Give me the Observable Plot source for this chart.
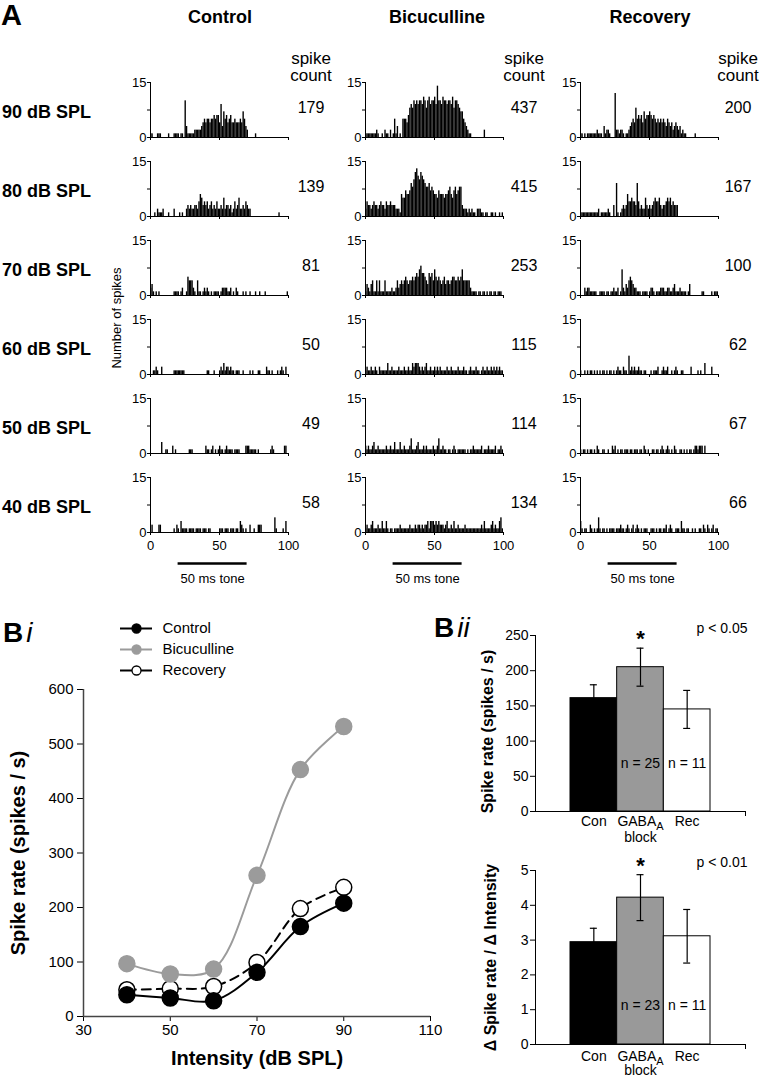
<!DOCTYPE html>
<html>
<head>
<meta charset="utf-8">
<script src="https://cdn.jsdelivr.net/npm/d3@7"></script>
<script src="https://cdn.jsdelivr.net/npm/@observablehq/plot@0.6"></script>
<style>
  body { margin: 0; background: #fff; }
  #fig { position: relative; width: 760px; height: 1077px; overflow: hidden; background: #fff;
         font-family: "Liberation Sans", Arial, Helvetica, sans-serif; color: #000; }
  .t { position: absolute; white-space: nowrap; line-height: 1; }
</style>
</head>
<body>
<div id="fig"></div>
<script>
// ---------------- DATA ----------------
const conditions = ["Control", "Bicuculline", "Recovery"];
const levels = ["90 dB SPL", "80 dB SPL", "70 dB SPL", "60 dB SPL", "50 dB SPL", "40 dB SPL"];
const controlCounts = [179, 139, 81, 50, 49, 58];
const bicucullineCounts = [437, 415, 253, 115, 114, 134];
const recoveryCounts = [200, 167, 100, 62, 67, 66];

// PSTH bins (1 ms, 0-100 ms), spikes per bin
const control90 = [1,1,0,0,0,1,1,1,0,0, 0,0,0,1,0,0,0,1,1,1, 1,0,1,1,0,10,3,1,1,1, 1,1,2,2,2,2,2,3,4,5, 4,5,5,4,5,5,6,5,6,6, 4,9,3,7,5,6,4,5,6,4, 4,5,4,4,4,5,4,7,5,3, 2,0,0,0,0,0,1,0,0,0, 0,0,0,0,0,0,0,0,0,0, 0,0,0,0,0,0,0,0,0,0];
const control80 = [0,0,0,1,0,2,1,1,1,2, 0,0,0,1,0,0,0,2,0,0, 0,1,0,1,0,0,2,3,2,3, 2,2,3,3,2,4,6,5,3,4, 3,4,2,3,4,2,3,2,4,2, 2,3,2,5,2,3,3,2,3,1, 2,4,2,3,5,2,2,3,2,4, 3,2,2,0,0,0,0,0,0,0, 0,0,0,0,0,0,0,0,0,0, 0,0,0,1,0,0,0,0,0,0];
const control70 = [2,3,1,0,1,0,1,0,0,0, 0,0,0,0,0,0,0,1,1,1, 1,0,1,2,0,0,1,5,4,4, 4,2,1,0,4,1,1,0,1,2, 1,2,1,0,1,0,1,1,1,1, 0,1,2,2,2,2,1,1,2,0, 1,0,2,1,0,0,0,1,0,1, 0,0,1,0,0,0,1,0,0,1, 0,0,0,1,0,0,0,0,0,0, 0,0,0,0,0,0,0,0,0,1];
const control60 = [0,0,1,1,2,1,0,0,2,0, 0,0,0,0,0,0,0,1,1,1, 1,1,1,1,1,0,0,0,0,0, 0,0,0,0,0,0,0,0,0,0, 0,1,1,0,0,0,1,0,0,0, 1,2,1,3,1,2,2,1,2,1, 1,0,1,1,1,0,0,1,0,0, 0,0,1,0,1,0,0,0,1,1, 0,0,0,0,2,1,1,0,1,0, 0,0,1,0,1,2,1,0,2,0];
const control50 = [0,0,0,0,0,0,0,0,3,0, 0,1,1,0,0,0,2,0,1,0, 0,0,0,0,0,0,0,0,1,1, 1,0,0,0,0,0,0,0,0,0, 2,1,1,0,1,2,0,1,0,1, 2,1,1,0,1,2,1,1,1,1, 0,1,1,1,1,0,0,0,0,2, 2,2,1,1,1,1,1,0,1,0, 0,0,0,0,0,0,0,1,2,1, 0,0,0,0,0,0,0,2,2,0];
const control40 = [0,2,0,0,0,0,2,2,0,0, 0,0,0,0,0,0,0,1,0,2, 1,0,3,1,1,1,1,0,1,1, 1,1,0,1,1,1,1,0,1,1, 1,0,1,1,0,0,0,0,0,0, 1,1,1,0,1,1,1,0,1,1, 1,0,1,1,0,3,2,1,0,1, 0,0,2,0,0,1,0,0,2,2, 2,0,0,0,0,0,0,0,0,0, 4,1,0,0,0,0,1,0,3,0];

const bicuculline90 = [1,1,1,1,1,1,1,1,2,1, 0,0,1,0,2,1,1,0,2,0, 1,5,1,3,0,1,0,5,5,5, 4,6,8,9,8,10,9,10,9,10, 10,9,11,10,8,10,11,9,10,10, 11,9,14,10,10,9,11,10,10,9, 10,10,9,11,8,10,10,9,8,7, 7,5,4,3,2,1,1,0,0,0, 0,0,0,0,0,0,2,0,0,0, 0,0,0,0,0,0,0,0,0,0];
const bicuculline80 = [2,4,3,3,2,3,4,3,3,2, 3,4,3,3,2,4,3,3,4,3, 3,3,2,2,2,1,6,5,5,7, 6,6,7,9,8,10,12,13,11,10, 12,11,10,9,8,8,9,7,8,7, 6,6,5,7,6,6,6,5,6,6, 7,8,6,5,7,8,6,7,8,8, 3,2,2,2,1,2,1,2,1,1, 0,2,2,2,1,1,0,1,1,0, 0,1,1,0,1,0,0,1,0,1];
const bicuculline70 = [1,3,2,1,3,4,1,1,4,1, 4,1,1,1,4,1,1,1,1,2, 1,1,2,4,2,3,4,3,4,5, 4,3,4,4,5,4,5,6,5,7, 8,6,6,5,4,3,6,5,6,4, 7,5,4,5,4,3,4,5,3,4, 4,3,4,5,5,4,4,5,4,5, 7,4,4,4,4,4,2,1,1,1, 1,0,1,1,0,1,1,0,1,0, 1,1,0,1,1,0,1,1,1,0];
const bicuculline60 = [1,2,1,1,2,1,1,2,1,0, 2,1,1,1,1,1,3,1,1,2, 1,1,1,1,2,1,1,1,2,1, 1,2,1,1,3,2,3,3,3,2, 1,2,1,2,3,1,1,2,1,1, 2,1,2,1,2,1,1,1,1,2, 1,1,2,1,1,1,1,2,1,1, 1,2,1,1,0,1,2,1,1,1, 2,1,1,0,1,2,1,1,2,1, 1,2,1,2,1,2,1,2,1,1];
const bicuculline50 = [2,1,2,1,1,2,3,1,1,2, 1,1,1,1,1,2,1,1,2,1, 1,3,1,1,1,3,1,1,2,1, 1,1,2,4,1,1,1,2,3,1, 1,1,2,1,2,1,1,1,1,2, 1,1,2,4,1,1,2,1,1,0, 1,1,0,1,2,1,0,1,1,1, 1,1,1,0,1,0,1,1,2,1, 1,1,1,1,2,0,1,1,1,2, 1,1,1,1,2,0,1,1,2,1];
const bicuculline40 = [1,2,1,1,2,3,1,1,1,2, 1,1,3,1,1,3,1,0,1,1, 0,1,1,1,1,2,1,1,1,1, 1,1,2,1,1,1,2,1,2,2, 1,2,1,2,2,3,1,3,3,3, 2,3,2,3,2,2,2,1,2,3, 1,1,2,1,3,1,1,2,1,1, 1,1,2,1,1,1,1,1,1,1, 1,1,1,1,2,1,3,1,1,1, 1,2,3,1,2,1,1,3,4,1];

const recovery90 = [1,1,0,1,0,1,1,1,1,1, 1,1,2,1,1,1,0,3,1,2, 2,1,0,0,0,12,2,2,1,2, 2,1,0,1,1,2,3,4,5,4, 8,5,6,5,6,4,7,5,6,6, 7,6,5,6,5,4,5,4,5,4, 5,4,3,5,4,3,4,2,3,4, 3,2,3,1,2,1,1,0,0,0, 0,0,0,1,0,0,0,0,0,0, 0,0,0,0,0,0,0,0,0,0];
const recovery80 = [1,1,1,1,1,1,1,1,1,1, 1,1,1,2,0,1,1,1,1,1, 2,1,0,0,3,0,9,1,0,1, 2,3,2,3,6,4,4,5,4,4, 3,9,4,2,3,2,2,5,3,2, 3,2,3,4,5,4,4,5,3,2, 3,3,4,5,4,5,3,4,3,3, 3,0,0,0,0,0,0,0,0,0, 0,0,0,0,0,0,0,0,0,0, 0,0,0,0,0,0,0,0,0,0];
const recovery70 = [0,0,0,2,1,2,2,1,1,1, 1,1,0,0,1,1,1,1,0,1, 1,0,1,1,2,1,1,2,0,1, 7,2,1,3,2,4,5,4,3,2, 2,1,1,1,0,1,1,1,1,0, 1,2,2,1,0,1,1,1,2,2, 2,1,1,2,2,1,1,2,3,1, 1,1,2,1,1,1,1,0,1,3, 0,0,0,0,0,0,0,0,1,1, 0,0,0,0,0,1,0,1,1,1];
const recovery60 = [1,0,0,1,0,1,0,1,1,0, 1,0,1,0,1,0,1,1,0,1, 0,1,1,0,1,0,1,2,1,1, 0,2,1,1,0,5,1,2,1,2, 1,1,2,1,1,0,1,1,0,0, 0,1,0,1,1,1,2,0,0,1, 2,1,1,2,0,0,1,0,1,2, 1,0,0,1,1,0,0,0,0,0, 2,0,0,0,0,1,0,1,0,0, 3,0,0,0,0,2,0,0,0,0];
const recovery50 = [1,0,1,1,0,1,0,1,1,0, 1,0,2,1,0,0,1,1,0,0, 1,0,0,2,1,2,0,1,0,1, 1,0,1,1,1,0,1,1,0,1, 1,1,0,1,1,0,2,1,0,1, 0,0,1,1,0,1,1,0,1,2, 1,0,1,2,1,0,1,0,2,1, 0,0,1,1,0,1,0,1,0,1, 1,0,1,2,2,1,2,2,2,0, 2,0,0,0,0,0,0,0,0,0];
const recovery40 = [3,1,0,1,1,0,0,2,1,0, 1,0,1,4,1,0,1,1,0,1, 0,1,1,1,1,0,1,1,1,2, 1,1,0,1,2,1,0,1,2,0, 1,2,1,0,1,0,1,1,1,0, 0,1,1,1,0,1,0,1,1,0, 1,1,2,0,1,2,1,0,0,1, 1,1,0,3,1,1,0,1,1,0, 0,1,0,1,0,0,1,1,0,2, 1,0,2,1,0,1,2,0,1,1];

const controlHists = [control90, control80, control70, control60, control50, control40];
const bicucullineHists = [bicuculline90, bicuculline80, bicuculline70, bicuculline60, bicuculline50, bicuculline40];
const recoveryHists = [recovery90, recovery80, recovery70, recovery60, recovery50, recovery40];

const timeDomain = [0, 100];
const timeTicks = [0, 50, 100];
const countDomain = [0, 15];
const countTicks = [0, 7.5, 15];
const toneOn = 20, toneOff = 70;
const toneLabel = "50 ms tone";

// Panel Bi
const intensities = [40, 50, 60, 70, 80, 90];
const controlRate = [40, 34, 29, 81, 165, 208];
const bicucullineRate = [97, 78, 87, 259, 453, 532];
const recoveryRate = [49, 51, 55, 99, 198, 237];
const intensityDomain = [30, 110];
const intensityTicks = [30, 50, 70, 90, 110];
const rateDomain = [0, 600];
const rateTicks = [0, 100, 200, 300, 400, 500, 600];

// Panel Bii
const groups = ["Con", "GABA", "Rec"];
const groupLabels = ["Con", "GABAA", "Rec"];
const groupSubLabels = ["", "block", ""];
const rateMean = [161, 205, 145];
const rateErr = [19, 27, 27];
const rateN = ["", "n = 25", "n = 11"];
const rateSig = ["", "*", ""];
const slopeMean = [2.94, 4.22, 3.11];
const slopeErr = [0.40, 0.66, 0.77];
const slopeN = ["", "n = 23", "n = 11"];
const slopeSig = ["", "*", ""];
const rateBarTicks = [0, 50, 100, 150, 200, 250];
const slopeBarTicks = [0, 1, 2, 3, 4, 5];

// ---------------- LAYOUT HELPERS ----------------
const FONT = '"Liberation Sans", Arial, Helvetica, sans-serif';
const fig = document.getElementById("fig");
function place(node, left, top) {
  node.style.position = "absolute";
  node.style.left = left + "px";
  node.style.top = top + "px";
  fig.appendChild(node);
  return node;
}
function textAt(html, x, y, css = {}, anchor = "middle", rotate = 0) {
  const d = document.createElement("div");
  d.className = "t";
  d.innerHTML = html;
  Object.assign(d.style, css);
  const tr = anchor === "start" ? "translate(0,-50%)" : "translate(-50%,-50%)";
  d.style.transform = rotate ? tr + " rotate(" + rotate + "deg)" : tr;
  place(d, x, y);
  return d;
}
const baseStyle = (size) => ({fontFamily: FONT, fontSize: size + "px", background: "transparent", overflow: "visible", color: "#000"});

// ---------------- PANEL A ----------------
const colX0 = [150, 365, 580];
const histW = 138, histH = 55;
const baselines = [137, 216, 295, 374, 453, 532];
const headerX = [311, 524, 738];

function histogram(values, x0, base, isBottom) {
  const bins = values.map((v, t) => ({t, v})).filter(d => d.v > 0);
  const mL = 24, mR = 8, mT = 4, mB = isBottom ? 56 : 6;
  const extra = isBottom ? [
    Plot.ruleY([0], {x1: toneOn, x2: toneOff, dy: 31, stroke: "#000", strokeWidth: 2.5}),
    Plot.text([toneLabel], {x: (toneOn + toneOff) / 2, frameAnchor: "bottom", dy: 46, lineAnchor: "middle", fontSize: 13, text: d => d})
  ] : [];
  const svg = Plot.plot({
    width: mL + histW + mR, height: mT + histH + mB,
    marginLeft: mL, marginRight: mR, marginTop: mT, marginBottom: mB,
    style: baseStyle(13),
    x: {domain: timeDomain, ticks: timeTicks, tickSize: 3, tickPadding: 5, tickFormat: isBottom ? (d => d) : (() => ""), label: null},
    y: {domain: countDomain, ticks: countTicks, tickSize: 3, tickPadding: 1, tickFormat: d => (d === 7.5 ? "" : d), label: null},
    marks: [
      Plot.rect(bins, {x1: "t", x2: d => d.t + 1, y1: 0, y2: "v", fill: "#000"}),
      Plot.ruleY([0], {stroke: "#000"}),
      Plot.ruleX([0], {y1: countDomain[0], y2: countDomain[1], stroke: "#000"}),
      ...extra
    ]
  });
  place(svg, x0 - mL, base - histH - mT);
}

const allHists = [controlHists, bicucullineHists, recoveryHists];
const allCounts = [controlCounts, bicucullineCounts, recoveryCounts];
allHists.forEach((hs, c) => {
  hs.forEach((vals, r) => histogram(vals, colX0[c], baselines[r], r === hs.length - 1));
});

textAt("A", 1, 15, {fontSize: "29px", fontWeight: "bold"}, "start");
conditions.forEach((c, i) => textAt(c, [220, 437, 650][i], 17, {fontSize: "18px", fontWeight: "bold"}));
conditions.forEach((c, i) => {
  textAt("spike", headerX[i], 59, {fontSize: "17px", lineHeight: "16px"});
  textAt("count", headerX[i], 76, {fontSize: "17px", lineHeight: "16px"});
});
levels.forEach((lv, r) => textAt(lv, 2, baselines[r] - 25, {fontSize: "18px", fontWeight: "bold"}, "start"));
allCounts.forEach((cs, c) => cs.forEach((n, r) => textAt(String(n), headerX[c], baselines[r] - 29, {fontSize: "16px"})));
textAt("Number of spikes", 116, 318, {fontSize: "13px"}, "middle", -90);

// ---------------- PANEL Bi ----------------
const rowsOf = (vals) => intensities.map((db, i) => ({db, rate: vals[i]}));
const GRAY = "#9b9b9b";
const biSvg = Plot.plot({
  width: 440, height: 477, marginLeft: 83, marginRight: 10, marginTop: 89, marginBottom: 61,
  style: baseStyle(15),
  x: {domain: intensityDomain, ticks: intensityTicks, tickSize: 5, tickPadding: 3, label: null},
  y: {domain: rateDomain, ticks: rateTicks, tickSize: 6, tickPadding: 4, label: null},
  marks: [
    Plot.ruleX([intensityDomain[0]], {stroke: "#444", strokeWidth: 1.5}),
    Plot.ruleY([rateDomain[0]], {stroke: "#444", strokeWidth: 1.5}),
    Plot.line(rowsOf(bicucullineRate), {x: "db", y: "rate", curve: "catmull-rom", stroke: GRAY, strokeWidth: 2}),
    Plot.line(rowsOf(recoveryRate), {x: "db", y: "rate", curve: "catmull-rom", stroke: "#000", strokeWidth: 2, strokeDasharray: "9,6"}),
    Plot.line(rowsOf(controlRate), {x: "db", y: "rate", curve: "catmull-rom", stroke: "#000", strokeWidth: 2}),
    Plot.dot(rowsOf(recoveryRate), {x: "db", y: "rate", r: 8, fill: "#fff", stroke: "#000", strokeWidth: 1.5}),
    Plot.dot(rowsOf(controlRate), {x: "db", y: "rate", r: 8, fill: "#000", stroke: "#000"}),
    Plot.dot(rowsOf(bicucullineRate), {x: "db", y: "rate", r: 8, fill: GRAY, stroke: GRAY}),
    Plot.text(["Spike rate (spikes / s)"], {frameAnchor: "left", dx: -65, rotate: -90, textAnchor: "middle", lineAnchor: "middle", fontWeight: "bold", fontSize: 20, text: d => d}),
    Plot.text(["Intensity (dB SPL)"], {frameAnchor: "bottom", dy: 42, textAnchor: "middle", lineAnchor: "middle", fontWeight: "bold", fontSize: 20, text: d => d})
  ]
});
place(biSvg, 0, 600);

// legend
const legendFill = ["#000", GRAY, "#fff"];
const legendStroke = ["#000", GRAY, "#000"];
const legendSvg = Plot.plot({
  width: 160, height: 62, marginLeft: 0, marginRight: 0, marginTop: 0, marginBottom: 0,
  style: baseStyle(15),
  x: {domain: [0, 1], range: [0, 32], axis: null},
  y: {type: "point", domain: conditions, range: [10, 52], padding: 0, axis: null},
  marks: conditions.flatMap((s, i) => [
    Plot.ruleY([s], {x1: 0, x2: 1, stroke: legendStroke[i], strokeWidth: 2}),
    Plot.dot([s], {x: 0.5, y: d => d, r: 4.5, fill: legendFill[i], stroke: legendStroke[i], strokeWidth: 1.3}),
    Plot.text([s], {x: 1, y: d => d, dx: 10, textAnchor: "start", fontSize: 15, text: d => d})
  ])
});
place(legendSvg, 120, 618);

textAt('<b>B</b><i style="margin-left:3px">i</i>', 3, 633, {fontSize: "28px"}, "start");

// ---------------- PANEL Bii ----------------
const barFill = ["#000", "#999", "#fff"];
function subscriptGaba(svg) {
  svg.querySelectorAll("text").forEach(t => {
    if (t.textContent === "GABAA") {
      t.textContent = "GABA";
      const s = document.createElementNS("http://www.w3.org/2000/svg", "tspan");
      s.setAttribute("dy", "4");
      s.setAttribute("font-size", "11");
      s.textContent = "A";
      t.appendChild(s);
    }
  });
}
function barPanel({means, errs, ns, sigs, yMax, yTicks, yTitle, titleDx, titleDy, pLabel, pDy, top, mT, innerH, mB, nDy, labDy, subDy}) {
  const rows = groups.map((g, i) => ({g, i, m: means[i], e: errs[i], n: ns[i], sig: sigs[i], lab: groupLabels[i], sub: groupSubLabels[i]}));
  const cx = d => d.i + 1.25;
  const svg = Plot.plot({
    width: 320, height: mT + innerH + mB, marginLeft: 95, marginRight: 15, marginTop: mT, marginBottom: mB,
    style: baseStyle(14),
    color: {type: "identity"},
    x: {domain: [0, 4.5], ticks: [4.5], tickSize: 5, tickFormat: () => "", label: null},
    y: {domain: [0, yMax], ticks: yTicks, tickSize: 5, tickPadding: 2, tickFormat: d => String(d), label: null},
    marks: [
      Plot.rect(rows, {x1: d => d.i + 0.75, x2: d => d.i + 1.75, y1: 0, y2: "m", fill: (d) => barFill[d.i], stroke: "#000", strokeWidth: 1}),
      Plot.ruleX(rows, {x: cx, y1: d => d.m - d.e, y2: d => d.m + d.e, stroke: "#000", strokeWidth: 1.2}),
      Plot.ruleY(rows, {y: d => d.m + d.e, x1: d => d.i + 1.175, x2: d => d.i + 1.325, stroke: "#000", strokeWidth: 1.2}),
      Plot.ruleY(rows, {y: d => d.m - d.e, x1: d => d.i + 1.175, x2: d => d.i + 1.325, stroke: "#000", strokeWidth: 1.2}),
      Plot.ruleY([0], {stroke: "#000"}),
      Plot.ruleX([0], {stroke: "#000"}),
      Plot.text(rows, {x: cx, y: d => d.m + d.e, dy: -2, lineAnchor: "bottom", text: "sig", fontSize: 22, fontWeight: "bold"}),
      Plot.text(rows, {x: cx, frameAnchor: "bottom", dy: nDy, lineAnchor: "middle", text: "n", fontSize: 14}),
      Plot.text(rows, {x: cx, frameAnchor: "bottom", dy: labDy, lineAnchor: "middle", text: "lab", fontSize: 14}),
      Plot.text(rows, {x: cx, frameAnchor: "bottom", dy: subDy, lineAnchor: "middle", text: "sub", fontSize: 14}),
      Plot.text([pLabel], {frameAnchor: "top-right", dx: 2, dy: pDy, textAnchor: "end", lineAnchor: "middle", fontSize: 14, text: d => d}),
      Plot.text([yTitle], {frameAnchor: "left", dx: titleDx, dy: titleDy, rotate: -90, textAnchor: "middle", lineAnchor: "middle", fontWeight: "bold", fontSize: 16, text: d => d})
    ]
  });
  subscriptGaba(svg);
  place(svg, 440, top - mT);
}

barPanel({means: rateMean, errs: rateErr, ns: rateN, sigs: rateSig, yMax: 250, yTicks: rateBarTicks,
  yTitle: "Spike rate (spikes / s)", titleDx: -48, titleDy: 8, pLabel: "p < 0.05", pDy: -7,
  top: 635, mT: 40, innerH: 176, mB: 40, nDy: -48, labDy: 10, subDy: 26});
barPanel({means: slopeMean, errs: slopeErr, ns: slopeN, sigs: slopeSig, yMax: 5, yTicks: slopeBarTicks,
  yTitle: "\u0394 Spike rate / \u0394 Intensity", titleDx: -45, titleDy: 0, pLabel: "p < 0.01", pDy: -8,
  top: 870, mT: 40, innerH: 174, mB: 33, nDy: -39, labDy: 12, subDy: 26});

textAt('<b>B</b><i style="margin-left:3px">ii</i>', 434, 628, {fontSize: "28px"}, "start");
</script>
</body>
</html>
